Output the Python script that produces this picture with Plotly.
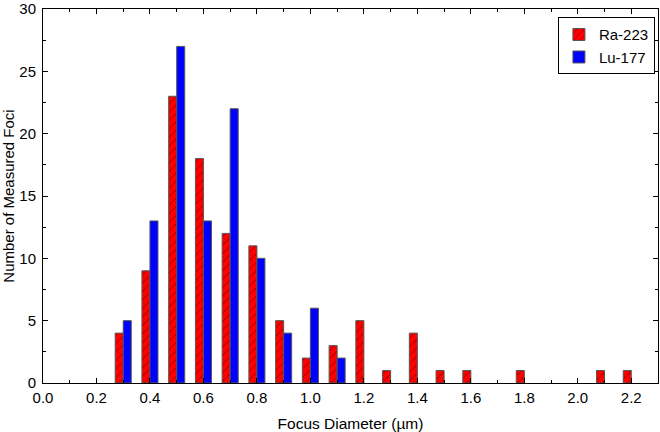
import plotly.graph_objects as go

ra_x = [0.3, 0.4, 0.5, 0.6, 0.7, 0.8, 0.9, 1.0, 1.1, 1.2, 1.3, 1.4, 1.5, 1.6, 1.8, 2.1, 2.2]
ra_y = [4, 9, 23, 18, 12, 11, 5, 2, 3, 5, 1, 4, 1, 1, 1, 1, 1]
lu_x = [0.3, 0.4, 0.5, 0.6, 0.7, 0.8, 0.9, 1.0, 1.1]
lu_y = [5, 13, 27, 13, 22, 10, 4, 6, 2]

x_ticks = [0.0, 0.2, 0.4, 0.6, 0.8, 1.0, 1.2, 1.4, 1.6, 1.8, 2.0, 2.2]
y_ticks = [0, 5, 10, 15, 20, 25, 30]

FONT = "Liberation Sans, Arial"

fig = go.Figure()
fig.add_trace(go.Bar(
    x=ra_x, y=ra_y, name="Ra-223", width=0.03, offset=-0.03,
    marker=dict(color="#ff0000", line=dict(color="#555555", width=1),
                pattern=dict(shape="/", fgcolor="#000000", bgcolor="#ff0000", size=6, solidity=0.15)),
))
fig.add_trace(go.Bar(
    x=lu_x, y=lu_y, name="Lu-177", width=0.03, offset=0.0,
    marker=dict(color="#0000ff", line=dict(color="#555555", width=1)),
))

axis_common = dict(
    showline=True, linecolor="#000000", linewidth=1, mirror="ticks",
    ticks="inside", ticklen=5, tickcolor="#000000", showgrid=False, zeroline=False,
    automargin=False, ticklabeloverflow="allow",
    tickfont=dict(family=FONT, size=15, color="#000000"),
)

fig.update_layout(
    width=660, height=432,
    margin=dict(l=43, r=2, t=9, b=49),
    paper_bgcolor="white", plot_bgcolor="white",
    barmode="overlay",
    font=dict(family=FONT, size=15, color="#000000"),
    xaxis=dict(range=[0, 2.3], tickvals=x_ticks, ticktext=[f"{v:.1f}" for v in x_ticks],
               title=dict(text="Focus Diameter (µm)", font=dict(size=15.5), standoff=13),
               minor=dict(dtick=0.1, tick0=0, ticks="inside", ticklen=3, tickcolor="#000000"),
               ticklabelstandoff=1,
               **axis_common),
    yaxis=dict(range=[0, 30], tickvals=y_ticks,
               title=dict(text="Number of Measured Foci", font=dict(size=15), standoff=6),
               minor=dict(dtick=2.5, tick0=0, ticks="inside", ticklen=3, tickcolor="#000000"),
               ticklabelstandoff=3,
               **axis_common),
    legend=dict(x=0.995, y=0.978, xanchor="right", yanchor="top",
                bordercolor="#000000", borderwidth=1, bgcolor="white",
                font=dict(size=15), tracegroupgap=0, itemwidth=30),
    showlegend=True,
)

fig.write_html("out.html", config={"displayModeBar": False},
               post_script="document.body.style.margin='0';document.body.style.overflow='hidden';")
